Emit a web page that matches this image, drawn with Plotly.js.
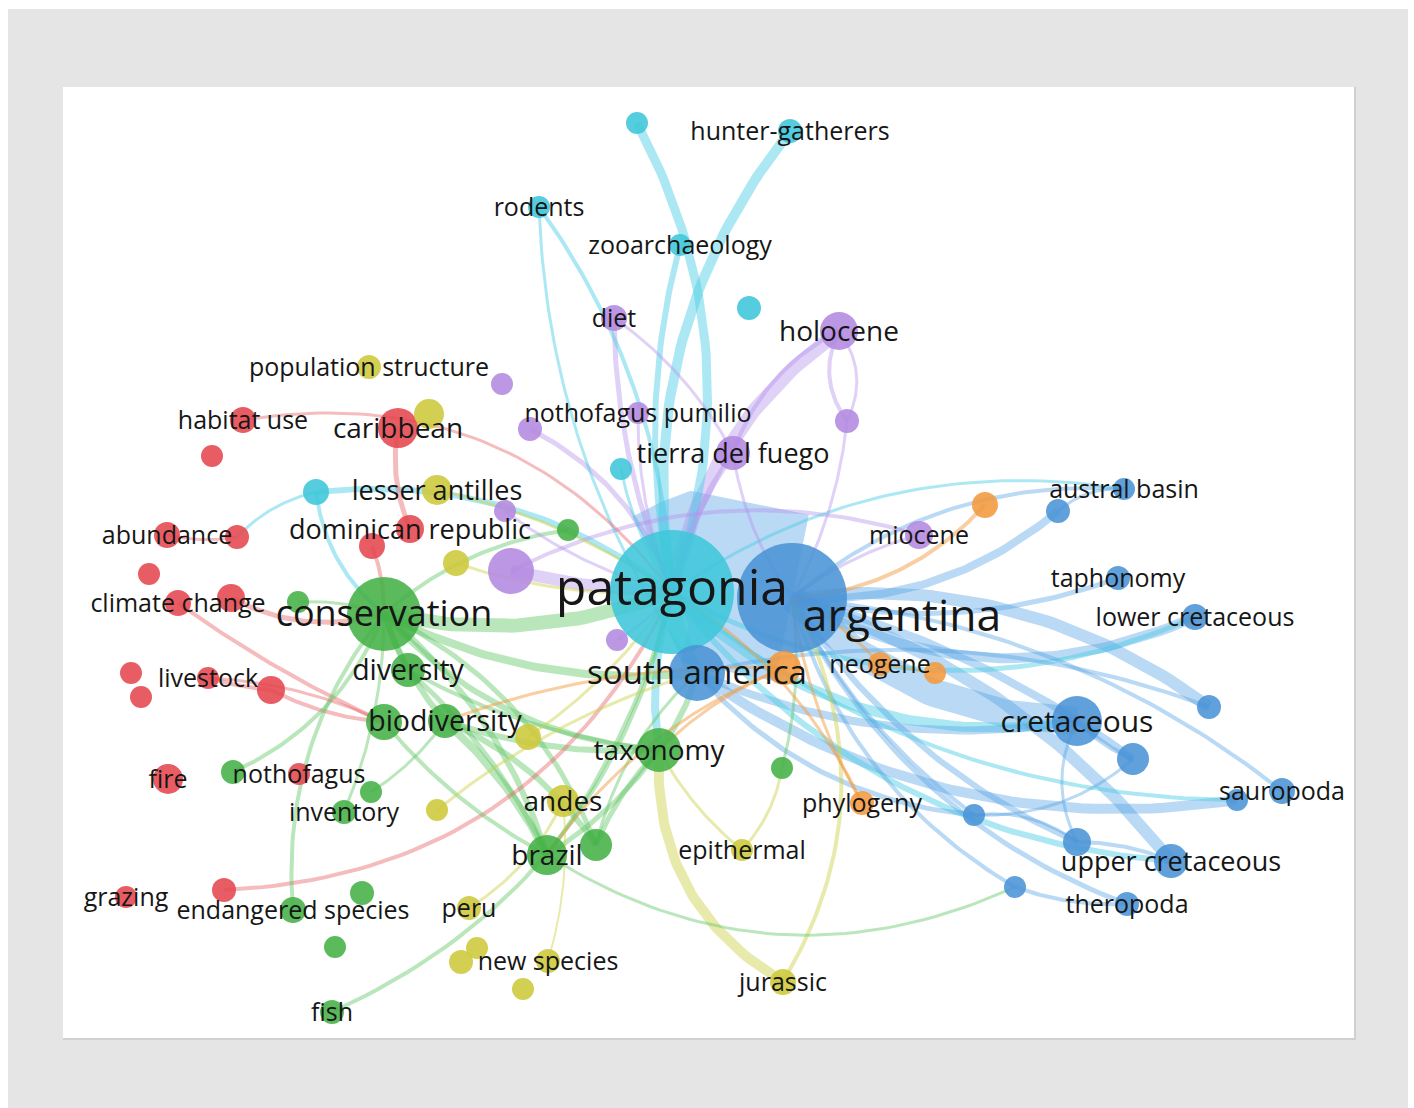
<!DOCTYPE html>
<html>
<head>
<meta charset="utf-8">
<script src="https://cdn.plot.ly/plotly-3.0.1.min.js"></script>
<style>
  html, body { margin: 0; padding: 0; background: #ffffff; }
  #map { width: 1414px; height: 1108px; }
</style>
</head>
<body>
<div id="map"></div>
<script>
// ---- Keyword co-occurrence map: terms ----
const nodeId = [
  'c_top','hunter','rodents','zoo','c_mid','c_small','c_left','pat',
  'arg','sam','austral','b1','taph','lowcret','b2','cret','b3','saur','b4','b5','b6','upcret','b7','thero',
  'o_sa','neo','o2','o3','phylo',
  'diet','holo','p1','p2','nothpum','p3','tdf','p4','p5','mio','p6',
  'carib','habitat','r1','abund','r2','r3','clim','r4','dom','r5','live','r6','r7','r8','fire','r9','graz','r10',
  'popstr','y1','lesser','y2','y3','andes','y4','epi','peru','y5','y6','newsp','y7','jur',
  'cons','g1','div','biod1','biod','tax','g2','g3','noth','g4','inv','brazil','g5','endsp','g6','g7','fish'
];
const nodeLabel = [
  '','hunter-gatherers','rodents','zooarchaeology','','','','patagonia',
  'argentina','south america','austral basin','','taphonomy','lower cretaceous','','cretaceous','','sauropoda','','','','upper cretaceous','','theropoda',
  '','neogene','','','phylogeny',
  'diet','holocene','','','nothofagus pumilio','','tierra del fuego','','','miocene','',
  'caribbean','habitat use','','abundance','','','climate change','','dominican republic','','livestock','','','','fire','nothofagus','grazing','',
  'population structure','','lesser antilles','','','andes','','epithermal','peru','','','new species','','jurassic',
  'conservation','','diversity','','biodiversity','taxonomy','','','','','inventory','brazil','','endangered species','','','fish'
];
// cluster: 1 red, 2 green, 3 blue, 4 yellow, 5 purple, 6 cyan, 7 orange
const nodeCluster = [
  6,6,6,6,6,6,6,6,
  3,3,3,3,3,3,3,3,3,3,3,3,3,3,3,3,
  7,7,7,7,7,
  5,5,5,5,5,5,5,5,5,5,5,
  1,1,1,1,1,1,1,1,1,1,1,1,1,1,1,1,1,1,
  4,4,4,4,4,4,4,4,4,4,4,4,4,4,
  2,2,2,2,2,2,2,2,2,2,2,2,2,2,2,2,2
];
// map coordinates of the terms
const nodeX = [
  637,790,539,680,749,621,316,672,
  792,697,1124,1058,1118,1195,1209,1077,1133,1282,1237,974,1077,1171,1015,1127,
  784,880,935,985,862,
  614,839,502,847,638,530,733,505,511,919,617,
  398,243,212,167,237,149,178,231,410,372,208,131,141,271,168,299,126,224,
  369,429,437,456,528,563,437,742,469,477,461,548,523,783,
  384,298,408,384,445,659,568,782,233,371,344,547,596,293,362,335,332
];
const nodeY = [
  123,131,207,245,308,469,492,592,
  598,673,489,511,578,617,707,721,759,791,800,815,842,861,887,904,
  668,664,673,505,803,
  318,331,384,421,413,429,453,511,571,535,640,
  428,420,456,535,537,574,603,598,529,546,678,673,697,690,779,774,897,890,
  367,414,490,563,737,801,810,850,908,948,962,961,989,982,
  614,602,670,722,721,750,530,768,772,792,812,855,845,910,893,947,1012
];
// occurrence weight of each term
const nodeWeight = [
  11,12,11,11,12,11,13,62,
  55,28,11,12,12,13,12,25,16,13,11,11,14,17,11,12,
  17,12,11,13,12,
  13,19,11,12,11,12,17,11,23,14,11,
  20,13,11,13,12,11,13,14,14,13,11,11,11,14,15,11,11,12,
  12,15,15,13,13,16,11,11,12,11,12,12,11,13,
  37,11,17,18,17,22,11,11,12,11,12,20,16,13,12,11,12
];

// ---- Co-occurrence links ----
const linkSource = [
  'c_top','hunter','zoo','rodents','rodents','c_left','c_left','c_left','c_small',
  'arg','pat','pat','pat','pat','pat','pat','pat',
  'arg','arg','arg','arg','arg','arg','arg','arg','sam','arg','arg','arg','arg','arg',
  'b7','b6','b5','cret','cret','austral','sam','sam','sam','b3',
  'holo','holo','holo','holo','p2','diet','diet','nothpum','p3','p5','p5','tdf','tdf','p4','p6','mio',
  'habitat','carib','r5','r4','clim','r8','live','live','abund','r10',
  'jur','jur','epi','epi','peru','y3','y2','lesser','newsp','y4',
  'cons','cons','cons','cons','cons','cons','cons','noth','endsp','cons','g2',
  'div','biod','biod','biod1','biod','div','tax','tax','tax','g5','g3','fish','brazil','inv','g4','brazil',
  'o3','phylo','o_sa','o_sa','o_sa','neo','neo','phylo'
];
const linkTarget = [
  'pat','pat','pat','pat','sam','pat','cons','r2','pat',
  'pat','sam','tax','cret','lowcret','upcret','austral','b4',
  'austral','b1','taph','lowcret','b2','cret','b3','saur','b4','b5','b6','upcret','b7','thero',
  'thero','upcret','b6','b3','b6','b1','cret','b5','b2','b5',
  'pat','p2','p2','tdf','arg','pat','tdf','pat','pat','pat','mio','arg','pat','pat','pat','arg',
  'pat','dom','cons','cons','biod1','biod1','r8','biod1','r2','pat',
  'tax','arg','tax','g3','andes','pat','pat','pat','andes','sam',
  'pat','sam','tax','biod','div','brazil','g5','cons','cons','g1','cons',
  'brazil','brazil','g5','brazil','tax','tax','brazil','g5','sam','sam','arg','pat','b7','cons','biod','pat',
  'arg','arg','tax','brazil','biod','o2','arg','pat'
];
const linkStrength = [
  9,10,6,4,3,6,4,3,3,
  170,16,8,10,5,6,3,4,
  4,8,5,10,12,28,8,4,10,4,6,12,4,5,
  4,4,3,5,3,3,8,5,4,3,
  14,4,3,4,3,5,3,3,5,12,4,3,6,3,3,3,
  3,5,4,5,4,4,4,3,3,4,
  10,4,3,3,3,3,3,3,2,3,
  14,8,6,6,6,6,5,4,4,3,4,
  5,8,6,4,6,4,5,5,6,3,3,4,3,3,3,4,
  4,3,3,3,3,2,3,3
];

// ---- Styling ----
const linkBend = [
  -0.22,0.22,0.12,-0.15,0.15,-0.2,0.2,0.15,0.1,
  0.36,0.15,0.12,0.25,0.25,0.22,-0.2,0.18,
  -0.2,0.2,0.15,0.25,-0.2,0.2,-0.1,-0.15,0.2,0.12,0.15,-0.15,0.2,0.2,
  0.1,-0.1,-0.2,0.1,0.25,0.2,0.15,0.2,-0.15,-0.2,
  0.2,0.3,-0.3,0.2,-0.1,0.1,-0.12,0.1,-0.2,0.05,-0.2,0.12,0.1,0.1,0.1,0.1,
  -0.3,0.15,-0.1,0.2,0.05,0.1,0.05,-0.1,0.1,0.3,
  -0.3,0.28,-0.1,0.15,0.15,0.1,0.1,-0.1,0.1,-0.1,
  0.15,0.15,0.2,0.1,0.05,-0.15,-0.2,0.2,-0.2,0.1,0.15,
  -0.1,-0.1,-0.15,0.1,0.1,0.1,-0.1,0.1,0.1,-0.15,0.1,0.25,0.27,0.1,0.1,0.1,
  -0.2,-0.1,0.1,0.15,0.1,0,0.1,0.15
];
const nodeColor = {1:'#e5474e', 2:'#43b045', 3:'#4a93d6', 4:'#cdc83a', 5:'#b389e0', 6:'#3fc6da', 7:'#f2993e'};
const linkColor = {
  1:'rgba(232,95,100,0.42)', 2:'rgba(90,195,95,0.42)', 3:'rgba(80,160,228,0.40)',
  4:'rgba(205,208,70,0.45)', 5:'rgba(180,145,235,0.42)', 6:'rgba(70,205,228,0.45)', 7:'rgba(242,158,70,0.5)'
};
const labelSize = {
  'patagonia':50, 'argentina':44.5, 'conservation':36, 'south america':33, 'cretaceous':30,
  'biodiversity':28.5, 'diversity':28.5, 'taxonomy':28, 'brazil':28, 'andes':28, 'holocene':28, 'caribbean':28,
  'tierra del fuego':27, 'lesser antilles':27, 'dominican republic':27, 'upper cretaceous':27
};
const labelShift = { 'argentina':[110,19], 'patagonia':[0,-3] };
const labelDrop = 3;

const idx = {};
nodeId.forEach((id, i) => { idx[id] = i; });

function curvePoints(a, b, bend, n) {
  const x0 = nodeX[a], y0 = nodeY[a], x2 = nodeX[b], y2 = nodeY[b];
  const dx = x2 - x0, dy = y2 - y0;
  const cx = (x0 + x2) / 2 - bend * dy;
  const cy = (y0 + y2) / 2 + bend * dx;
  const xs = [], ys = [];
  for (let k = 0; k <= n; k++) {
    const t = k / n, u = 1 - t;
    xs.push(u * u * x0 + 2 * u * t * cx + t * t * x2);
    ys.push(u * u * y0 + 2 * u * t * cy + t * t * y2);
  }
  return [xs, ys];
}

const traces = [];
// links: drawn heaviest first so the thin curves stay visible on top
const order = linkSource.map((_, i) => i).sort((p, q) => linkStrength[q] - linkStrength[p]);
order.forEach(i => {
  const a = idx[linkSource[i]], b = idx[linkTarget[i]];
  const [xs, ys] = curvePoints(a, b, linkBend[i], 48);
  traces.push({
    type: 'scatter', mode: 'lines', x: xs, y: ys,
    line: { color: linkColor[nodeCluster[a]], width: linkStrength[i] },
    hoverinfo: 'skip', showlegend: false
  });
});

// terms
traces.push({
  type: 'scatter', mode: 'markers', x: nodeX, y: nodeY,
  marker: {
    size: nodeWeight.map(w => 2 * w),
    color: nodeCluster.map(c => nodeColor[c]),
    opacity: 0.88, line: { width: 0 }
  },
  hoverinfo: 'skip', showlegend: false
});

// labels
const lx = [], ly = [], lt = [], ls = [];
nodeLabel.forEach((t, i) => {
  if (!t) return;
  const s = labelShift[t] || [0, 0];
  lx.push(nodeX[i] + s[0]);
  ly.push(nodeY[i] + s[1] + labelDrop);
  lt.push(t);
  ls.push(labelSize[t] || 25);
});
traces.push({
  type: 'scatter', mode: 'text', x: lx, y: ly, text: lt,
  textposition: 'middle center',
  textfont: { family: 'Open Sans, sans-serif', size: ls, color: '#161616' },
  hoverinfo: 'skip', showlegend: false
});

const layout = {
  width: 1414, height: 1108,
  margin: { l: 0, r: 0, t: 0, b: 0 },
  paper_bgcolor: '#ffffff', plot_bgcolor: 'rgba(0,0,0,0)',
  xaxis: { range: [0, 1414], visible: false, fixedrange: true },
  yaxis: { range: [1108, 0], visible: false, fixedrange: true },
  showlegend: false,
  shapes: [
    { type: 'rect', layer: 'below', xref: 'x', yref: 'y', x0: 8, x1: 1408, y0: 9, y1: 1108,
      fillcolor: '#e5e5e5', line: { width: 0 } },
    { type: 'rect', layer: 'below', xref: 'x', yref: 'y', x0: 63, x1: 1356, y0: 87, y1: 1040,
      fillcolor: '#d0d0d0', line: { width: 0 } },
    { type: 'rect', layer: 'below', xref: 'x', yref: 'y', x0: 63, x1: 1354, y0: 87, y1: 1038,
      fillcolor: '#ffffff', line: { width: 0 } }
  ]
};

Plotly.newPlot('map', traces, layout, { staticPlot: true, displayModeBar: false });
</script>
</body>
</html>
